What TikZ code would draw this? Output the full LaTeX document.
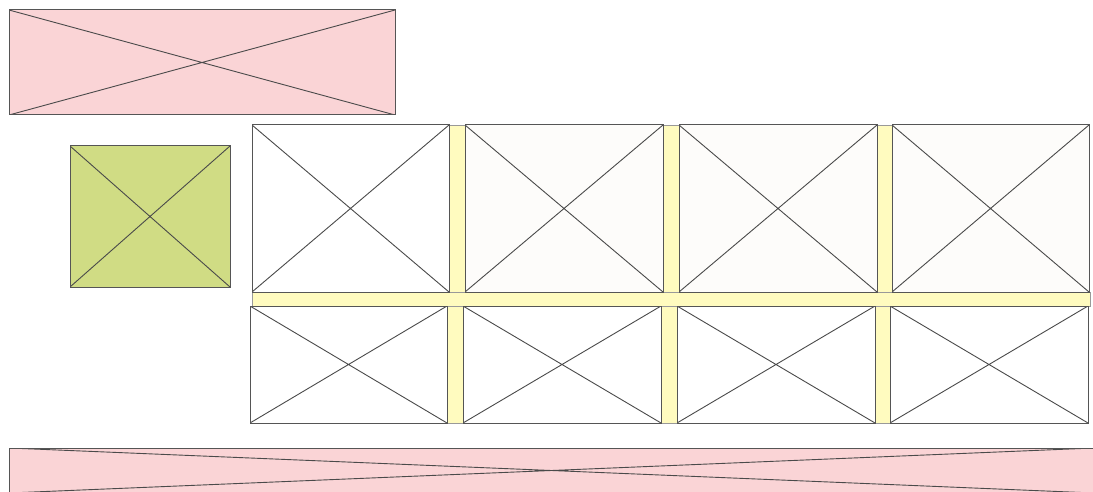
\documentclass[tikz,border=0pt]{standalone}
\definecolor{pinkfill}{HTML}{FAD4D6}
\definecolor{greenfill}{HTML}{D0DC84}
\definecolor{yellowfill}{HTML}{FFFBBF}
\definecolor{offwhite}{HTML}{FDFCFA}
\definecolor{edge}{HTML}{555555}
\definecolor{crossline}{HTML}{4A4A4A}
\tikzset{
  xbox/.style={draw=edge, line width=1pt, inner sep=0pt, outer sep=0pt, anchor=north west,
    path picture={\draw[crossline, line width=0.9pt]
      (path picture bounding box.north west) -- (path picture bounding box.south east)
      (path picture bounding box.south west) -- (path picture bounding box.north east);}},
  strip/.style={fill=yellowfill, draw=edge!60, line width=0.6pt}
}
\newcommand{\xb}[6]{\node[xbox, fill=#6, minimum width=#4-#2, minimum height=#5-#3] (#1) at (#2,#3) {};}
\begin{document}
\begin{tikzpicture}[x=1pt, y=-1pt]
\useasboundingbox[fill=white] (0,0) rectangle (1093,492);
% yellow strips
\draw[strip] (252,292) rectangle (1090,306);
\draw[strip] (449,125) rectangle (465,292);
\draw[strip] (663,125) rectangle (679,292);
\draw[strip] (877,125) rectangle (892,292);
\draw[strip] (447,306) rectangle (463,423);
\draw[strip] (661,306) rectangle (677,423);
\draw[strip] (875,306) rectangle (890,423);
% top banner
\xb{banner}{9}{10}{395}{115}{pinkfill}
% green square
\xb{logo}{70}{146}{230}{287}{greenfill}
% top row
\xb{ta}{252}{125}{449}{292}{white}
\xb{tb}{465}{125}{663}{292}{offwhite}
\xb{tc}{679}{125}{877}{292}{offwhite}
\xb{td}{892}{125}{1089}{292}{offwhite}
% bottom row
\xb{ba}{250}{306}{447}{423}{white}
\xb{bb}{463}{306}{661}{423}{white}
\xb{bc}{677}{306}{875}{423}{white}
\xb{bd}{890}{306}{1088}{423}{white}
% footer
\xb{footer}{9}{448}{1094}{493}{pinkfill}
\end{tikzpicture}
\end{document}
